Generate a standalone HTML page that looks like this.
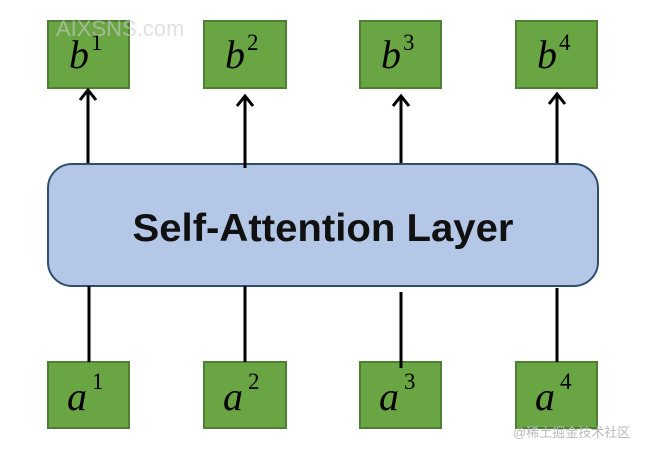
<!DOCTYPE html>
<html><head><style>body{margin:0;background:#fff}</style></head><body>
<svg width="649" height="455" viewBox="0 0 649 455" xmlns="http://www.w3.org/2000/svg">
<g fill="#6aa544" stroke="#4f7f33" stroke-width="2">
<rect x="48" y="21" width="81" height="67"/>
<rect x="204" y="21" width="82" height="67"/>
<rect x="360" y="21" width="81" height="67"/>
<rect x="516" y="21" width="81" height="67"/>
<rect x="48" y="362" width="81" height="66"/>
<rect x="204" y="362" width="82" height="66"/>
<rect x="360" y="362" width="81" height="66"/>
<rect x="516" y="362" width="81" height="66"/>
</g>
<rect x="48" y="164" width="550" height="122" rx="24" fill="#b4c7e7" stroke="#2f4e6f" stroke-width="2"/>
<g stroke="#000" stroke-width="3" fill="none">
<line x1="88" y1="163" x2="88" y2="90"/><polyline points="80,100 88,90 96,100"/>
<line x1="245" y1="168" x2="245" y2="96"/><polyline points="237,106 245,96 253,106"/>
<line x1="401" y1="163" x2="401" y2="96"/><polyline points="393,106 401,96 409,106"/>
<line x1="557" y1="163" x2="557" y2="94"/><polyline points="549,104 557,94 565,104"/>
<line x1="89" y1="286" x2="89" y2="362"/>
<line x1="245" y1="286" x2="245" y2="362"/>
<line x1="401" y1="292" x2="401" y2="368"/>
<line x1="557" y1="288" x2="557" y2="362"/>
</g>
<text x="323" y="241" text-anchor="middle" font-family="Liberation Sans, sans-serif" font-size="39" font-weight="bold" fill="#111" textLength="381" lengthAdjust="spacingAndGlyphs">Self-Attention Layer</text>
<g font-family="Liberation Serif, serif" font-style="italic" font-size="40" fill="#000">
<text x="69" y="68">b</text><text x="225" y="68">b</text><text x="381" y="68">b</text><text x="537" y="68">b</text>
<text x="67" y="410">a</text><text x="223" y="410">a</text><text x="379" y="410">a</text><text x="535" y="410">a</text>
</g>
<g font-family="Liberation Serif, serif" font-size="23" fill="#000">
<text x="91" y="50">1</text><text x="247" y="50">2</text><text x="403" y="50">3</text><text x="559" y="50">4</text>
<text x="92" y="389">1</text><text x="248" y="389">2</text><text x="404" y="389">3</text><text x="560" y="389">4</text>
</g>
<text x="56" y="36" font-family="Liberation Sans, sans-serif" font-size="22" fill="#ccc" fill-opacity="0.6">AIXSNS.com</text>
<text x="513" y="437" font-family="Liberation Sans, Noto Sans CJK SC, sans-serif" font-size="13" fill="#bbb">@稀土掘金技术社区</text>
</svg>
</body></html>
